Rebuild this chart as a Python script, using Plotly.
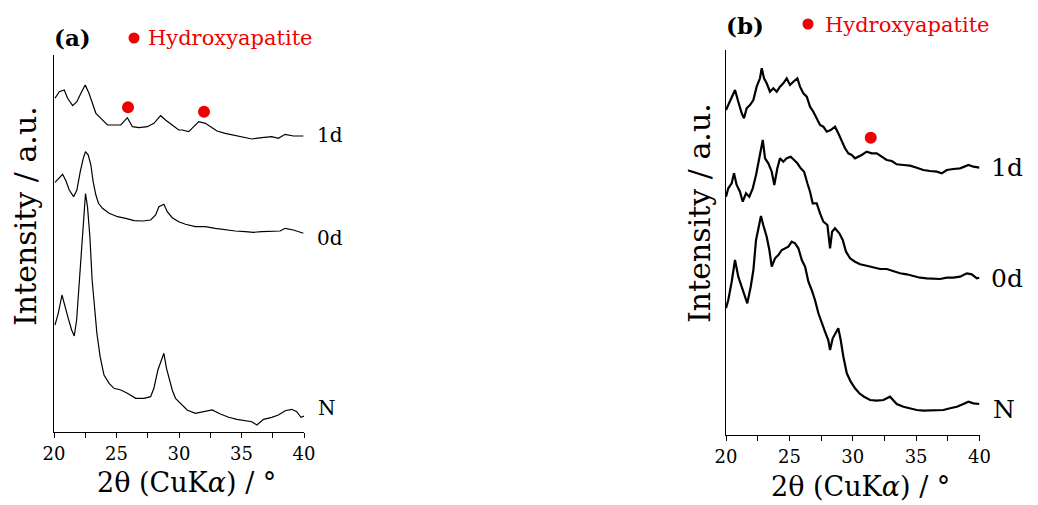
import plotly.graph_objects as go

# ---------------- data (intensity in arbitrary units, stacked as displayed) ----------------
# Panel (a)
a_1d_x = [20.08, 20.42, 20.82, 21.09, 21.49, 21.83, 22.15, 22.5, 22.8, 23.08, 23.35, 23.75, 24.28, 24.8,
          25.34, 25.87, 26.27, 26.8, 27.46, 27.99, 28.53, 28.92, 29.46, 29.98, 30.25, 30.78, 31.18, 31.58,
          32.11, 32.51, 33.04, 33.7, 34.37, 35.03, 35.83, 36.63, 37.42, 37.95, 38.49, 39.15, 39.95]
a_1d_y = [333.7, 340.3, 342, 333.7, 326.3, 330.3, 338.7, 347, 338.7, 328.7, 318.7, 313.7, 307, 307,
          307, 314.3, 305.3, 304.3, 305.3, 308.7, 316.3, 312, 307, 302, 302, 300.3, 305.3, 310.3,
          308.7, 305.3, 301, 298.7, 297, 295.3, 293, 294.3, 295.3, 293.7, 297.7, 296, 296]

a_0d_x = [20.08, 20.42, 20.69, 20.96, 21.22, 21.57, 21.83, 22.1, 22.34, 22.52, 22.74, 22.95, 23.13, 23.35,
          23.56, 23.88, 24.41, 25.08, 25.74, 26.4, 27.07, 27.73, 28.13, 28.39, 28.79, 29.06, 29.46, 29.98,
          30.52, 31.31, 32.11, 32.91, 33.7, 34.5, 35.3, 35.96, 36.63, 37.42, 38.09, 38.49, 39.15, 39.95]
a_0d_y = [249.7, 253.7, 257.7, 251, 242, 235.3, 242, 260.3, 273.7, 280.3, 277, 267, 250.3, 237,
          228.7, 223.7, 218.7, 215.3, 213.7, 211.3, 211, 212, 217, 225.3, 227.7, 220.3, 214.3, 210.3,
          207.7, 205.3, 205.3, 203.7, 202, 201, 200.3, 199.7, 200.3, 200.3, 201, 203.7, 202, 198.7]

a_N_x = [20.08, 20.34, 20.64, 20.88, 21.14, 21.41, 21.62, 21.81, 21.99, 22.2, 22.36, 22.52, 22.68, 22.87,
         23.05, 23.24, 23.43, 23.69, 24.0, 24.41, 24.8, 25.34, 25.87, 26.53, 27.2, 27.73, 27.99, 28.31,
         28.58, 28.79, 29.0, 29.22, 29.46, 29.72, 30.12, 30.65, 31.31, 31.98, 32.65, 33.31, 33.97, 34.64,
         35.3, 35.83, 36.23, 36.76, 37.42, 37.95, 38.49, 39.02, 39.42, 39.76, 40.0]
a_N_y = [107, 118.7, 137, 127, 113.7, 102, 96, 112, 145.3, 185.3, 218.7, 238.5, 225.3, 195.3,
         152, 122, 98.7, 75.3, 57, 48.7, 43.7, 42, 38.7, 33.7, 33.7, 35.3, 43.7, 62,
         70.3, 78.7, 63.7, 52, 42, 33.7, 28.7, 22, 18.7, 20.3, 22, 18, 14.7, 12.7,
         11.3, 10.3, 7, 12.7, 14.7, 17, 21.3, 22.7, 20.3, 14.7, 16]

hap_a_x = [25.92, 32.0]
hap_a_y = [324.7, 320.3]

# Panel (b)
b_1d_x = [20.0, 20.18, 20.45, 20.71, 20.97, 21.24, 21.42, 21.63, 21.89, 22.16, 22.42, 22.68, 22.82, 23.0,
          23.21, 23.47, 23.73, 24.0, 24.26, 24.52, 24.79, 25.05, 25.31, 25.63, 25.84, 26.1, 26.37, 26.63,
          26.89, 27.16, 27.42, 27.68, 27.95, 28.26, 28.6, 28.86, 29.13, 29.39, 29.65, 29.92, 30.18, 30.44,
          30.71, 31.1, 31.5, 31.89, 32.29, 32.68, 33.08, 33.47, 34.0, 34.52, 35.05, 35.57, 36.1, 36.63,
          37.02, 37.42, 37.94, 38.47, 39.13, 39.52, 40.0]
b_1d_y = [325, 330, 336.7, 345, 333.3, 321.7, 316.7, 326.7, 330, 335, 348.3, 356.7, 366.7, 356.7,
          351.7, 343.3, 346.7, 343.3, 348.3, 351.7, 356.7, 350, 353.3, 356.7, 348.3, 341.7, 338.3, 328.3,
          323.3, 316.7, 310, 308.3, 303.3, 305, 308.3, 301.7, 293.3, 286.7, 281.7, 280, 276.7, 278.3,
          280, 283.3, 281.7, 281.7, 278.3, 275, 274, 270.7, 270, 269.3, 267.3, 265, 264, 263.3,
          261.7, 265, 266, 266.7, 270, 268.3, 267.3]

b_0d_x = [20.0, 20.18, 20.45, 20.63, 20.84, 21.1, 21.32, 21.58, 21.84, 22.11, 22.37, 22.63, 22.82, 22.9,
          23.08, 23.34, 23.61, 23.81, 24.05, 24.26, 24.52, 24.79, 25.11, 25.37, 25.63, 25.9, 26.16, 26.42,
          26.63, 26.84, 27.16, 27.42, 27.68, 28.0, 28.21, 28.37, 28.6, 28.94, 29.21, 29.47, 29.79, 30.18,
          30.58, 31.1, 31.63, 32.16, 32.68, 33.2, 33.73, 34.26, 34.79, 35.31, 35.84, 36.36, 36.89, 37.42,
          37.94, 38.47, 39.0, 39.39, 39.79, 40.0]
b_0d_y = [238.3, 246.7, 251.7, 261.7, 250, 243.3, 233.3, 241.7, 238.3, 246.7, 260, 276.7, 286.7, 295,
          276.7, 271.7, 263.3, 250, 266.7, 276.7, 273.3, 276.7, 278.3, 275, 271.7, 266.7, 263.3, 251.7,
          243.3, 231.7, 231.7, 221.7, 213.3, 210, 186.7, 203.3, 206.7, 201.7, 195, 183.3, 176.7, 173.3,
          170.7, 169.3, 167.3, 166, 166, 164, 161.7, 160.7, 159.3, 157.3, 156.7, 156, 156, 157.3,
          157.3, 158.3, 161.7, 160.7, 156.7, 157.3]

b_N_x = [20.0, 20.18, 20.45, 20.71, 20.97, 21.24, 21.5, 21.68, 21.95, 22.16, 22.37, 22.58, 22.76, 22.94,
         23.21, 23.42, 23.61, 23.87, 24.13, 24.4, 24.66, 24.92, 25.19, 25.45, 25.71, 25.98, 26.24, 26.5,
         26.76, 27.02, 27.29, 27.55, 27.81, 28.07, 28.21, 28.42, 28.68, 28.86, 29.05, 29.26, 29.53, 29.84,
         30.18, 30.52, 30.89, 31.37, 31.89, 32.42, 32.94, 33.47, 34.0, 34.52, 35.05, 35.57, 36.1, 36.63,
         37.15, 37.68, 38.21, 38.73, 39.13, 39.52, 40.0]
b_N_y = [126.7, 135, 153.3, 175, 158.3, 148.3, 138.3, 131.7, 148.3, 165, 195, 208.3, 219, 210,
         198.3, 185, 168.3, 176.7, 180, 185, 186.7, 188.3, 193.3, 191.7, 186.7, 175, 168.3, 153.3,
         145, 135, 121.7, 111.7, 103.3, 95, 85, 96.7, 103.3, 106.7, 95, 78.3, 61.7, 53.3,
         46.7, 41.7, 38.3, 35, 34.3, 35, 38.3, 31, 28.3, 26.7, 25, 24.3, 24.3, 24.3,
         25, 26.7, 28.3, 31, 33.3, 31.7, 31]

hap_b_x = [31.42]
hap_b_y = [297.3]

x_ticks = [20, 25, 30, 35, 40]
curve_labels = ["1d", "0d", "N"]

# ---------------- figure ----------------
FONT = "DejaVu Serif"
RED = "#f00000"
fig = go.Figure()

line_a = dict(color="black", width=1.2)
line_b = dict(color="black", width=2.2)
for xs, ys in [(a_1d_x, a_1d_y), (a_0d_x, a_0d_y), (a_N_x, a_N_y)]:
    fig.add_trace(go.Scatter(x=xs, y=ys, mode="lines", line=line_a, xaxis="x", yaxis="y",
                             showlegend=False, hoverinfo="skip"))
fig.add_trace(go.Scatter(x=hap_a_x, y=hap_a_y, mode="markers", marker=dict(color=RED, size=12),
                         xaxis="x", yaxis="y", showlegend=False, hoverinfo="skip"))
for xs, ys in [(b_1d_x, b_1d_y), (b_0d_x, b_0d_y), (b_N_x, b_N_y)]:
    fig.add_trace(go.Scatter(x=xs, y=ys, mode="lines", line=line_b, xaxis="x2", yaxis="y2",
                             showlegend=False, hoverinfo="skip"))
fig.add_trace(go.Scatter(x=hap_b_x, y=hap_b_y, mode="markers", marker=dict(color=RED, size=12),
                         xaxis="x2", yaxis="y2", showlegend=False, hoverinfo="skip"))

W, H = 1038, 505
def px(x):
    return x / W
def py(y):
    return 1 - y / H

xcommon = dict(range=[20, 40], tickvals=x_ticks, ticks="outside", ticklen=5, tickwidth=1,
               tickcolor="black", showline=True, linecolor="black", linewidth=1.2, showgrid=False,
               zeroline=False, tickfont=dict(family=FONT, size=18, color="black"),
               minor=dict(dtick=2.5, tick0=20, ticks="outside", ticklen=5, tickcolor="black", tickwidth=1),
               fixedrange=True, automargin=False)
ycommon = dict(showline=True, linecolor="black", linewidth=1.2, showgrid=False, zeroline=False,
               showticklabels=False, ticks="", fixedrange=True, automargin=False)

fig.update_layout(
    width=W, height=H, autosize=False, margin=dict(l=0, r=0, t=0, b=0, pad=0, autoexpand=False),
    paper_bgcolor="white", plot_bgcolor="white", showlegend=False,
    xaxis=dict(domain=[px(54), px(304)], anchor="y", **xcommon),
    yaxis=dict(domain=[py(432), py(55)], anchor="x", range=[0, 377], **ycommon),
    xaxis2=dict(domain=[px(726), px(979.5)], anchor="y2", **xcommon),
    yaxis2=dict(domain=[py(435), py(50)], anchor="x2", range=[0, 385], **ycommon),
)

ann = []
def text(x, y, s, size, color="black", bold=False, angle=0, xanchor="center"):
    ann.append(dict(x=px(x), y=py(y), xref="paper", yref="paper", text=("<b>%s</b>" % s) if bold else s,
                    showarrow=False, xanchor=xanchor, yanchor="middle", textangle=angle,
                    font=dict(family=FONT, size=size, color=color)))

# panel (a)
text(52, 38, "(a)", 23, bold=True, xanchor="left")
text(146, 38, "Hydroxyapatite", 21, color=RED, xanchor="left")
text(26, 216, "Intensity / a.u.", 30, angle=-90)
text(186, 482, "2θ (CuK<i>α</i>) / °", 27)
for lab, (lx, ly) in zip(curve_labels, [(315, 135), (315, 238), (316, 408)]):
    text(lx, ly, lab, 20, xanchor="left")

# panel (b)
text(724, 25, "(b)", 23, bold=True, xanchor="left")
text(823, 25, "Hydroxyapatite", 21, color=RED, xanchor="left")
text(700, 213, "Intensity / a.u.", 30, angle=-90)
text(860, 486, "2θ (CuK<i>α</i>) / °", 27)
for lab, (lx, ly) in zip(curve_labels, [(989, 167), (989, 278), (991, 409)]):
    text(lx, ly, lab, 25, xanchor="left")

fig.update_layout(annotations=ann)

# legend dots
for cx, cy in [(134, 38), (808, 24)]:
    fig.add_shape(type="circle", xref="paper", yref="paper",
                  x0=px(cx - 5.5), x1=px(cx + 5.5), y0=py(cy + 5.5), y1=py(cy - 5.5),
                  fillcolor=RED, line=dict(width=0))

fig.write_html("out.html", config={"responsive": False, "displayModeBar": False, "staticPlot": True},
               post_script="document.body.style.margin='0px';document.body.style.overflow='hidden';")
